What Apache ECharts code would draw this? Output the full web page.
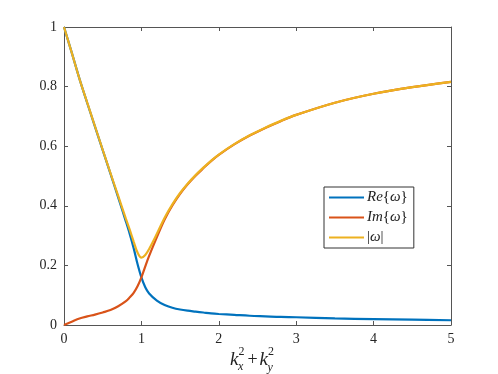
<!DOCTYPE html>
<html lang="en">
<head>
  <meta charset="UTF-8">
  <title>omega</title>
  <script src="https://cdn.jsdelivr.net/npm/echarts@6/dist/echarts.min.js"></script>
  <style>
    html, body { margin: 0; padding: 0; background: #fff; }
  </style>
</head>
<body>
<div id="chart1" style="width:498px;height:374px;"></div>
<script type="text/javascript">
  // values
  var kVals = [0, 0.1, 0.2, 0.3, 0.4, 0.5, 0.6, 0.7, 0.8, 0.85, 0.9, 0.95, 1.0, 1.05, 1.1, 1.2, 1.3, 1.4, 1.5, 1.6, 1.7, 1.8, 1.9, 2.0, 2.2, 2.4, 2.6, 2.8, 3.0, 3.5, 4.0, 4.5, 5.0];
  var reVals = [1.0, 0.914, 0.826, 0.745, 0.666, 0.587, 0.508, 0.428, 0.347, 0.305, 0.258, 0.205, 0.16, 0.127, 0.106, 0.082, 0.067, 0.058, 0.052, 0.048, 0.045, 0.042, 0.039, 0.037, 0.034, 0.031, 0.029, 0.027, 0.026, 0.022, 0.020, 0.018, 0.016];
  var imVals = [0, 0.011, 0.022, 0.029, 0.035, 0.042, 0.050, 0.063, 0.080, 0.093, 0.108, 0.130, 0.16, 0.197, 0.232, 0.295, 0.354, 0.401, 0.44, 0.473, 0.501, 0.526, 0.550, 0.571, 0.606, 0.636, 0.661, 0.684, 0.705, 0.746, 0.776, 0.798, 0.816];
  var absVals = [1.0, 0.914, 0.826, 0.746, 0.667, 0.588, 0.510, 0.433, 0.356, 0.319, 0.280, 0.243, 0.226, 0.235, 0.255, 0.306, 0.36, 0.405, 0.443, 0.475, 0.503, 0.528, 0.551, 0.572, 0.607, 0.637, 0.662, 0.685, 0.705, 0.746, 0.776, 0.798, 0.816];
  var seriesNames = ['Re', 'Im', 'Abs'];
  var colors = ['#0072BD', '#D95319', '#EDB120'];

  function pairs(ys) {
    return kVals.map(function (k, i) { return [k, ys[i]]; });
  }

  var serif = 'Liberation Serif, Times New Roman, serif';
  var axisColor = '#555';
  var ink = '#222';

  var myChart1 = echarts.init(document.getElementById('chart1'));

  function mkLine(name, ys, color) {
    return {
      name: name,
      type: 'line',
      data: pairs(ys),
      symbol: 'none',
      smooth: 0.35,
      lineStyle: { color: color, width: 2.2 },
      itemStyle: { color: color, opacity: 0 }
    };
  }

  // little text pieces for the axis title (sub/superscripts)
  function txt(x, y, s, font) {
    return { type: 'text', x: x, y: y, style: { text: s, font: font, fill: ink, verticalAlign: 'middle' } };
  }

  var tickOpts = { show: true, inside: true, length: 4, lineStyle: { color: axisColor } };

  myChart1.setOption({
    animation: false,
    color: colors,
    grid: { left: 64, right: 47, top: 27, bottom: 49 },
    legend: {
      orient: 'vertical',
      left: 324,
      top: 187,
      padding: [3, 6, 3, 4],
      itemWidth: 35,
      itemHeight: 12,
      itemGap: 5,
      backgroundColor: '#fff',
      borderColor: '#333',
      borderWidth: 1,
      borderRadius: 0,
      itemStyle: { opacity: 0 },
      data: seriesNames,
      formatter: function (n) {
        if (n === 'Re') return '{i|Re}{n|{}{i|ω}}';
        if (n === 'Im') return '{i|Im}{n|{}{i|ω}}';
        return '{n||}{i|ω}|';
      },
      textStyle: {
        fontFamily: serif, fontSize: 15, color: ink, padding: [0, 0, 0, -2],
        rich: {
          i: { fontFamily: serif, fontStyle: 'italic', fontSize: 15, color: ink },
          n: { fontFamily: serif, fontSize: 15, color: ink }
        }
      }
    },
    xAxis: [{
      type: 'value', min: 0, max: 5, interval: 1,
      axisLine: { show: true, lineStyle: { color: axisColor } },
      axisTick: tickOpts,
      splitLine: { show: false },
      axisLabel: { fontFamily: serif, fontSize: 14, color: '#262626', margin: 7 }
    }, {
      type: 'value', min: 0, max: 5, interval: 1, position: 'top',
      axisLine: { show: true, onZero: false, lineStyle: { color: axisColor } },
      axisTick: tickOpts,
      splitLine: { show: false },
      axisLabel: { show: false }
    }],
    yAxis: [{
      type: 'value', min: 0, max: 1, interval: 0.2,
      axisLine: { show: true, lineStyle: { color: axisColor } },
      axisTick: tickOpts,
      splitLine: { show: false },
      axisLabel: { fontFamily: serif, fontSize: 14, color: '#262626', margin: 7 }
    }, {
      type: 'value', min: 0, max: 1, interval: 0.2, position: 'right',
      axisLine: { show: true, onZero: false, lineStyle: { color: axisColor } },
      axisTick: tickOpts,
      splitLine: { show: false },
      axisLabel: { show: false }
    }],
    graphic: [
      txt(230, 360, 'k', 'italic 19px ' + serif),
      txt(238.5, 352, '2', '12px ' + serif),
      txt(238, 367, 'x', 'italic 12px ' + serif),
      txt(247.5, 360, '+', '18px ' + serif),
      txt(259.5, 360, 'k', 'italic 19px ' + serif),
      txt(268, 352, '2', '12px ' + serif),
      txt(267.5, 368, 'y', 'italic 12px ' + serif)
    ],
    series: [
      mkLine('Re', reVals, colors[0]),
      mkLine('Im', imVals, colors[1]),
      mkLine('Abs', absVals, colors[2])
    ]
  });
</script>
</body>
</html>
